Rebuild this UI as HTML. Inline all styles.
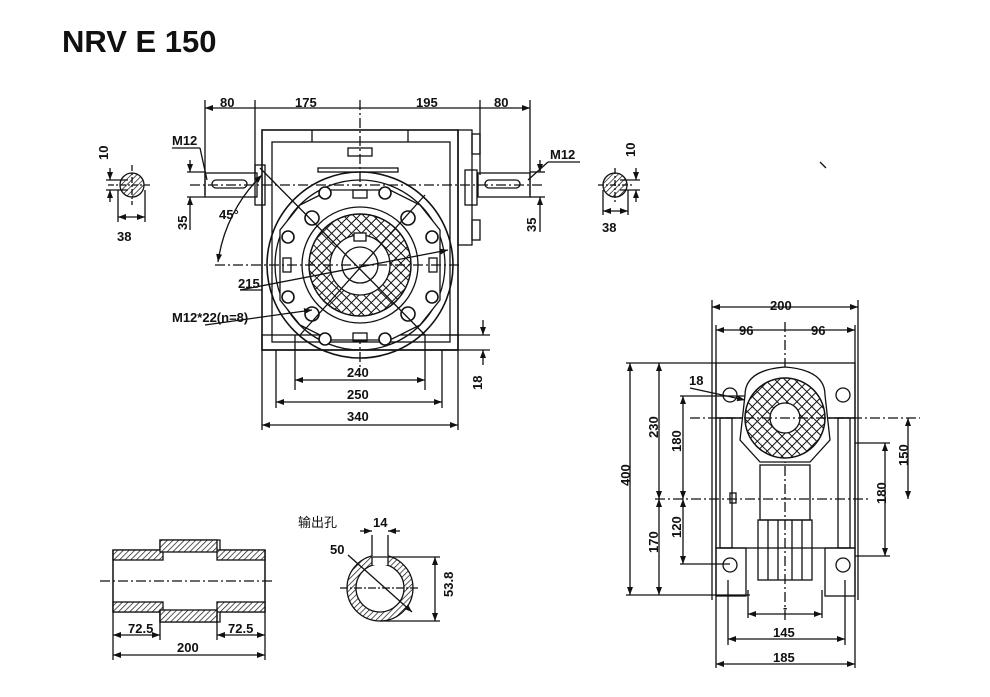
<!DOCTYPE html>
<html><head><meta charset="utf-8"><style>
html,body{margin:0;padding:0;background:#fff;}
svg{display:block;font-family:"Liberation Sans","Noto Sans CJK SC",sans-serif;}
text{font-weight:bold;font-size:13px;fill:#111;}
</style></head><body>
<svg width="990" height="697" viewBox="0 0 990 697" xmlns="http://www.w3.org/2000/svg">
<defs>
<pattern id="xh" width="7" height="7" patternUnits="userSpaceOnUse" patternTransform="rotate(45)">
<rect width="7" height="7" fill="#fff"/><path d="M0 0H7M0 0V7" stroke="#111" stroke-width="2"/></pattern>
<pattern id="dh" width="4" height="4" patternUnits="userSpaceOnUse" patternTransform="rotate(45)">
<rect width="4" height="4" fill="#fff"/><path d="M0 0V4" stroke="#111" stroke-width="1.4"/></pattern>
<marker id="a" markerWidth="8" markerHeight="6" refX="8" refY="3" orient="auto-start-reverse" markerUnits="userSpaceOnUse"><path d="M0 0L8 3L0 6z" fill="#111"/></marker>
</defs>
<text x="62" y="52" style="font-size:31px">NRV E 150</text>
<g stroke="#111" fill="none" stroke-width="1.3">
<line x1="205" y1="108" x2="530" y2="108" marker-start="url(#a)" marker-end="url(#a)"/>
<line x1="205" y1="100" x2="205" y2="195"/><line x1="255" y1="100" x2="255" y2="180"/>
<line x1="360" y1="100" x2="360" y2="370" stroke-dasharray="10 3 2 3"/>
<line x1="480" y1="100" x2="480" y2="175"/><line x1="530" y1="100" x2="530" y2="195"/>
<rect x="262" y="130" width="196" height="220" stroke-width="1.6"/>
<rect x="272" y="142" width="178" height="200"/>
<line x1="312" y1="130" x2="312" y2="142"/><line x1="408" y1="130" x2="408" y2="142"/>
<rect x="318" y="168" width="80" height="4"/>
<rect x="348" y="148" width="24" height="8"/>
<rect x="458" y="130" width="14" height="115"/>
<rect x="472" y="134" width="8" height="20"/><rect x="472" y="220" width="8" height="20"/>
<rect x="255" y="165" width="10" height="40"/>
<rect x="465" y="170" width="12" height="35"/>
<rect x="205" y="173" width="52" height="24"/>
<rect x="212" y="180" width="35" height="8" rx="4"/>
<rect x="478" y="173" width="52" height="24"/>
<rect x="485" y="180" width="35" height="8" rx="4"/>
<line x1="190" y1="185" x2="545" y2="185" stroke-dasharray="10 3 2 3"/>
<rect x="262" y="335" width="196" height="15"/>
<line x1="295" y1="335" x2="295" y2="390"/><line x1="425" y1="335" x2="425" y2="390"/>
<line x1="276" y1="350" x2="276" y2="408"/><line x1="442" y1="350" x2="442" y2="408"/>
<line x1="262" y1="350" x2="262" y2="430"/><line x1="458" y1="350" x2="458" y2="430"/>
<line x1="295" y1="380" x2="425" y2="380" marker-start="url(#a)" marker-end="url(#a)"/>
<line x1="276" y1="402" x2="442" y2="402" marker-start="url(#a)" marker-end="url(#a)"/>
<line x1="262" y1="425" x2="458" y2="425" marker-start="url(#a)" marker-end="url(#a)"/>
<line x1="440" y1="350" x2="490" y2="350"/><line x1="440" y1="335" x2="490" y2="335"/>
<line x1="483" y1="320" x2="483" y2="335" marker-end="url(#a)"/><line x1="483" y1="365" x2="483" y2="350" marker-end="url(#a)"/>
<circle cx="360" cy="265" r="93" stroke-width="1.6"/>
<circle cx="360" cy="265" r="85"/>
<path d="M300 205 L330 190 L390 190 L420 205 L440 230 L440 300 L420 325 L390 340 L330 340 L300 325 L280 300 L280 230Z" fill="#fff"/>
<circle cx="360" cy="265" r="58"/>
<circle cx="360" cy="265" r="51" fill="url(#xh)" stroke-width="1.5"/>
<circle cx="360" cy="265" r="30" fill="#fff"/>
<circle cx="360" cy="265" r="18"/>
<rect x="354" y="233" width="12" height="8" fill="#fff"/>
<g fill="#fff" stroke-width="1.6">
<circle cx="312" cy="218" r="7"/><circle cx="408" cy="218" r="7"/><circle cx="312" cy="314" r="7"/><circle cx="408" cy="314" r="7"/>
<circle cx="325" cy="193" r="6"/><circle cx="385" cy="193" r="6"/><circle cx="325" cy="339" r="6"/><circle cx="385" cy="339" r="6"/>
<circle cx="288" cy="237" r="6"/><circle cx="432" cy="237" r="6"/><circle cx="288" cy="297" r="6"/><circle cx="432" cy="297" r="6"/>
</g>
<rect x="353" y="190" width="14" height="8"/><rect x="353" y="333" width="14" height="8"/>
<rect x="283" y="258" width="8" height="14"/><rect x="429" y="258" width="8" height="14"/>
<line x1="215" y1="265" x2="462" y2="265" stroke-dasharray="10 3 2 3"/>
<line x1="260" y1="168" x2="425" y2="335"/><line x1="425" y1="195" x2="300" y2="335"/>
<line x1="240" y1="290" x2="448" y2="250" marker-end="url(#a)"/>
<line x1="240" y1="290" x2="262" y2="290"/>
<line x1="205" y1="325" x2="312" y2="310" marker-end="url(#a)"/>
<path d="M262 175 A150 150 0 0 0 218 262" marker-start="url(#a)" marker-end="url(#a)"/>
<line x1="172" y1="148" x2="200" y2="148"/><line x1="200" y1="148" x2="207" y2="180"/>
<line x1="187" y1="172" x2="205" y2="172"/><line x1="187" y1="197" x2="205" y2="197"/>
<line x1="190" y1="160" x2="190" y2="172" marker-end="url(#a)"/><line x1="190" y1="230" x2="190" y2="197" marker-end="url(#a)"/>
<line x1="580" y1="162" x2="548" y2="162"/><line x1="548" y1="162" x2="528" y2="180"/>
<line x1="530" y1="172" x2="545" y2="172"/><line x1="530" y1="197" x2="545" y2="197"/>
<line x1="540" y1="160" x2="540" y2="172" marker-end="url(#a)"/><line x1="540" y1="232" x2="540" y2="197" marker-end="url(#a)"/>
<circle cx="132" cy="185" r="12" fill="url(#dh)"/>
<line x1="108" y1="185" x2="150" y2="185" stroke-dasharray="6 2 2 2"/>
<line x1="132" y1="165" x2="132" y2="205" stroke-dasharray="6 2 2 2"/>
<line x1="106" y1="180" x2="128" y2="180"/><line x1="106" y1="190" x2="128" y2="190"/>
<line x1="110" y1="168" x2="110" y2="180" marker-end="url(#a)"/><line x1="110" y1="202" x2="110" y2="190" marker-end="url(#a)"/>
<line x1="118" y1="190" x2="118" y2="222"/><line x1="145" y1="190" x2="145" y2="222"/>
<line x1="118" y1="217" x2="145" y2="217" marker-start="url(#a)" marker-end="url(#a)"/>
<circle cx="615" cy="185" r="12" fill="url(#dh)"/>
<line x1="598" y1="185" x2="632" y2="185" stroke-dasharray="6 2 2 2"/>
<line x1="615" y1="168" x2="615" y2="202" stroke-dasharray="6 2 2 2"/>
<line x1="620" y1="180" x2="640" y2="180"/><line x1="620" y1="190" x2="640" y2="190"/>
<line x1="636" y1="168" x2="636" y2="180" marker-end="url(#a)"/><line x1="636" y1="202" x2="636" y2="190" marker-end="url(#a)"/>
<line x1="603" y1="190" x2="603" y2="215"/><line x1="628" y1="190" x2="628" y2="215"/>
<line x1="603" y1="211" x2="628" y2="211" marker-start="url(#a)" marker-end="url(#a)"/>
<line x1="820" y1="162" x2="826" y2="168"/>
<line x1="712" y1="300" x2="712" y2="600"/><line x1="858" y1="300" x2="858" y2="600"/>
<line x1="712" y1="307" x2="858" y2="307" marker-start="url(#a)" marker-end="url(#a)"/>
<line x1="716" y1="330" x2="855" y2="330" marker-start="url(#a)" marker-end="url(#a)"/>
<line x1="716" y1="325" x2="716" y2="600"/><line x1="855" y1="325" x2="855" y2="600"/>
<line x1="785" y1="322" x2="785" y2="620" stroke-dasharray="10 3 2 3"/>
<rect x="716" y="363" width="139" height="55"/>
<rect x="716" y="418" width="139" height="130"/>
<rect x="720" y="418" width="12" height="130"/><rect x="838" y="418" width="12" height="130"/>
<rect x="716" y="548" width="30" height="48"/><rect x="825" y="548" width="30" height="48"/>
<circle cx="730" cy="395" r="7"/><circle cx="843" cy="395" r="7"/>
<circle cx="730" cy="565" r="7"/><circle cx="843" cy="565" r="7"/>
<path d="M745 395 Q745 370 785 367 Q825 370 825 395 L830 440 L810 462 L760 462 L740 440Z" fill="#fff"/>
<circle cx="785" cy="418" r="40" fill="url(#xh)" stroke-width="1.5"/>
<circle cx="785" cy="418" r="15" fill="#fff"/>
<rect x="760" y="465" width="50" height="55"/>
<rect x="758" y="520" width="54" height="60"/>
<line x1="768" y1="520" x2="768" y2="580"/><line x1="778" y1="520" x2="778" y2="580"/><line x1="792" y1="520" x2="792" y2="580"/><line x1="802" y1="520" x2="802" y2="580"/>
<rect x="730" y="493" width="6" height="10"/>
<line x1="655" y1="499" x2="870" y2="499" stroke-dasharray="10 3 2 3"/>
<line x1="690" y1="418" x2="920" y2="418" stroke-dasharray="10 3 2 3"/>
<line x1="626" y1="363" x2="716" y2="363"/><line x1="626" y1="595" x2="750" y2="595"/>
<line x1="630" y1="363" x2="630" y2="595" marker-start="url(#a)" marker-end="url(#a)"/>
<line x1="659" y1="363" x2="659" y2="499" marker-start="url(#a)" marker-end="url(#a)"/>
<line x1="659" y1="499" x2="659" y2="595" marker-start="url(#a)" marker-end="url(#a)"/>
<line x1="680" y1="396" x2="745" y2="396"/><line x1="680" y1="564" x2="730" y2="564"/>
<line x1="683" y1="396" x2="683" y2="499" marker-start="url(#a)" marker-end="url(#a)"/>
<line x1="683" y1="499" x2="683" y2="564" marker-start="url(#a)" marker-end="url(#a)"/>
<line x1="855" y1="443" x2="890" y2="443"/><line x1="855" y1="556" x2="890" y2="556"/>
<line x1="885" y1="443" x2="885" y2="556" marker-start="url(#a)" marker-end="url(#a)"/>
<line x1="908" y1="418" x2="908" y2="499" marker-start="url(#a)" marker-end="url(#a)"/>
<line x1="690" y1="388" x2="745" y2="400" marker-end="url(#a)"/>
<line x1="748" y1="590" x2="748" y2="618"/><line x1="822" y1="590" x2="822" y2="618"/>
<line x1="748" y1="614" x2="822" y2="614" marker-start="url(#a)" marker-end="url(#a)"/>
<line x1="728" y1="580" x2="728" y2="645"/><line x1="845" y1="580" x2="845" y2="645"/>
<line x1="728" y1="639" x2="845" y2="639" marker-start="url(#a)" marker-end="url(#a)"/>
<line x1="716" y1="600" x2="716" y2="668"/><line x1="855" y1="600" x2="855" y2="668"/>
<line x1="716" y1="664" x2="855" y2="664" marker-start="url(#a)" marker-end="url(#a)"/>
<path d="M113 550 H160 V540 H220 V550 H265 V612 H220 V622 H160 V612 H113Z" fill="#fff"/>
<rect x="113" y="550" width="50" height="10" fill="url(#dh)"/><rect x="217" y="550" width="48" height="10" fill="url(#dh)"/>
<rect x="113" y="602" width="50" height="10" fill="url(#dh)"/><rect x="217" y="602" width="48" height="10" fill="url(#dh)"/>
<rect x="160" y="540" width="57" height="12" fill="url(#dh)"/><rect x="160" y="610" width="57" height="12" fill="url(#dh)"/>
<line x1="113" y1="550" x2="113" y2="660"/><line x1="265" y1="550" x2="265" y2="660"/>
<line x1="160" y1="610" x2="160" y2="640"/><line x1="217" y1="610" x2="217" y2="640"/>
<line x1="113" y1="635" x2="160" y2="635" marker-start="url(#a)" marker-end="url(#a)"/>
<line x1="217" y1="635" x2="265" y2="635" marker-start="url(#a)" marker-end="url(#a)"/>
<line x1="113" y1="655" x2="265" y2="655" marker-start="url(#a)" marker-end="url(#a)"/>
<line x1="100" y1="581" x2="275" y2="581" stroke-dasharray="10 3 2 3"/>
<circle cx="380" cy="588" r="33" fill="url(#dh)"/>
<circle cx="380" cy="588" r="24" fill="#fff"/>
<rect x="372" y="553" width="16" height="12" fill="#fff" stroke="none"/>
<path d="M372 557 V566 M388 557 V566 M372 557 H388"/>
<line x1="372" y1="535" x2="372" y2="556"/><line x1="388" y1="535" x2="388" y2="556"/>
<line x1="360" y1="531" x2="372" y2="531" marker-end="url(#a)"/><line x1="400" y1="531" x2="388" y2="531" marker-end="url(#a)"/>
<line x1="388" y1="557" x2="440" y2="557"/><line x1="380" y1="621" x2="440" y2="621"/>
<line x1="435" y1="557" x2="435" y2="621" marker-start="url(#a)" marker-end="url(#a)"/>
<line x1="348" y1="555" x2="412" y2="612" marker-end="url(#a)"/>
<line x1="340" y1="588" x2="420" y2="588" stroke-dasharray="8 2 2 2"/>
</g>
<text x="220" y="107">80</text><text x="295" y="107">175</text><text x="416" y="107">195</text><text x="494" y="107">80</text>
<text x="172" y="145">M12</text><text x="550" y="159">M12</text>
<text x="219" y="219">45°</text>
<text x="238" y="288">215</text>
<text x="172" y="322">M12*22(n=8)</text>
<text x="347" y="377">240</text><text x="347" y="399">250</text><text x="347" y="421">340</text>
<text x="117" y="241">38</text><text x="602" y="232">38</text>
<text transform="translate(108,160) rotate(-90)">10</text>
<text transform="translate(635,157) rotate(-90)">10</text>
<text transform="translate(187,230) rotate(-90)">35</text>
<text transform="translate(536,232) rotate(-90)">35</text>
<text transform="translate(482,390) rotate(-90)">18</text>
<text x="770" y="310">200</text><text x="739" y="335">96</text><text x="811" y="335">96</text>
<text x="689" y="385">18</text>
<text transform="translate(630,486) rotate(-90)">400</text>
<text transform="translate(658,438) rotate(-90)">230</text>
<text transform="translate(658,553) rotate(-90)">170</text>
<text transform="translate(681,452) rotate(-90)">180</text>
<text transform="translate(681,538) rotate(-90)">120</text>
<text transform="translate(886,504) rotate(-90)">180</text>
<text transform="translate(908,466) rotate(-90)">150</text>
<text x="783" y="612">-</text>
<text x="773" y="637">145</text><text x="773" y="662">185</text>
<text x="298" y="527" style="font-weight:normal">输出孔</text>
<text x="373" y="527">14</text><text x="330" y="554">50</text>
<text transform="translate(453,597) rotate(-90)">53.8</text>
<text x="128" y="633">72.5</text><text x="228" y="633">72.5</text><text x="177" y="652">200</text>
</svg>
</body></html>
